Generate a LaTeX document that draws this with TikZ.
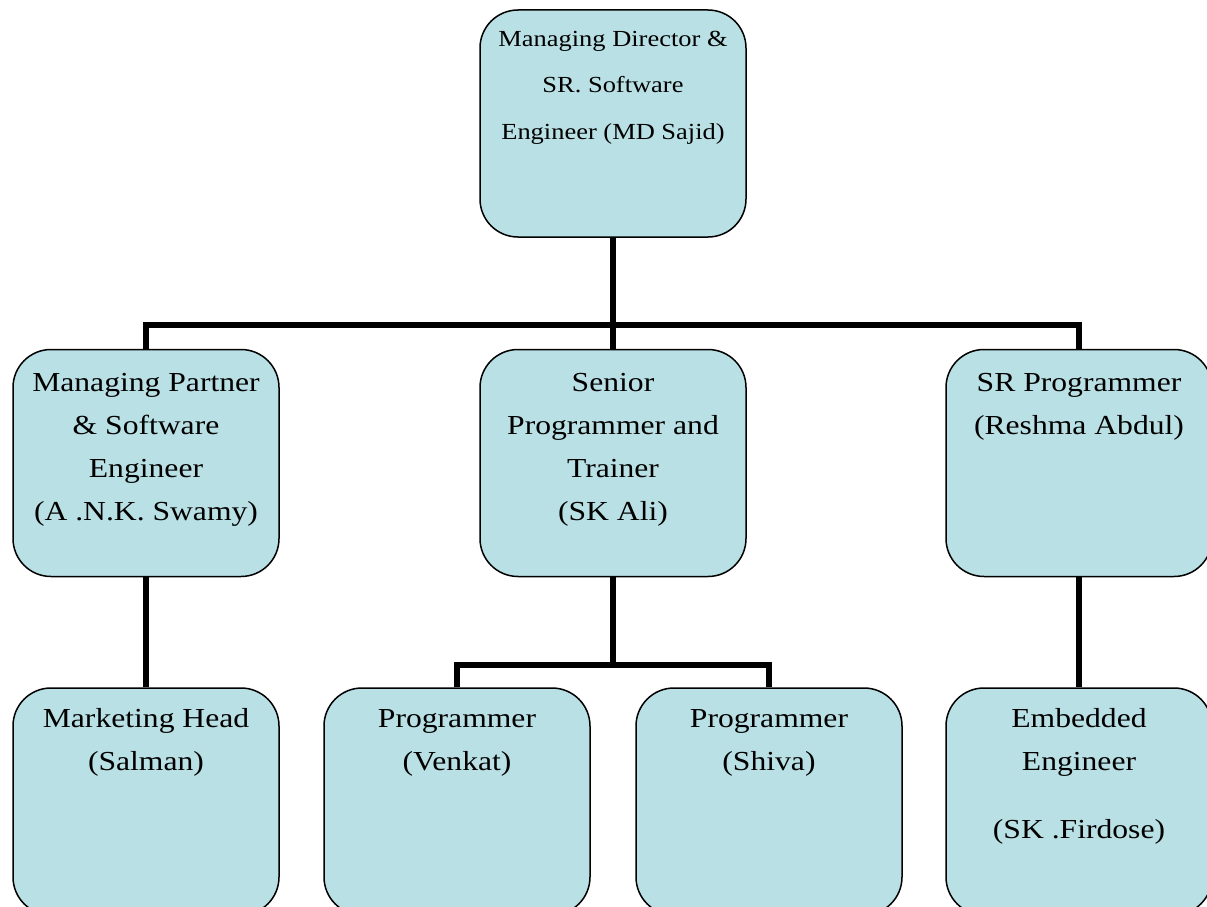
\documentclass[tikz,border=0pt]{standalone}
\usepackage{fontspec}
\setmainfont{Liberation Serif}[FakeStretch=1.15]
\usetikzlibrary{calc}
\definecolor{boxblue}{RGB}{185,224,228}

\begin{document}
\begin{tikzpicture}[x=1pt,y=-1pt,
  orgbox/.style={draw=black,line width=1.5pt,fill=boxblue,rounded corners=38pt,minimum width=266pt,minimum height=227pt,inner sep=0pt},
  orgtext/.style={anchor=north,align=center,inner sep=0pt,font=\fontsize{27.5}{43}\selectfont},
  toptext/.style={orgtext,font=\fontsize{23}{46.5}\selectfont},
  link/.style={line width=6pt}]
\clip (0,0) rectangle (1207,907);

%ROW NR. 0 (from top)

%BOX IN COLUMN NR. 0 (from left)
\node [orgbox] (md) at (613,123.5) {};
\node [toptext] (mdtext) at ($(md.north)+(0,4.5)$) {\strut Managing Director \&\\SR. Software\\Engineer (MD Sajid)};




%ROW NR. 1 (from top)

%BOX IN COLUMN NR. 0 (from left)
\node [orgbox] (swamy) at (146,463) {};
\node [orgtext] (swamytext) at ($(swamy.north)+(0,12)$) {\strut Managing Partner\\\& Software\\Engineer\\(A .N.K. Swamy)};

%BOX IN COLUMN NR. 1 (from left)
\node [orgbox] (ali) at (613,463) {};
\node [orgtext] (alitext) at ($(ali.north)+(0,12)$) {\strut Senior\\Programmer and\\Trainer\\(SK Ali)};

%BOX IN COLUMN NR. 2 (from left)
\node [orgbox] (reshma) at (1079,463) {};
\node [orgtext] (reshmatext) at ($(reshma.north)+(0,12)$) {\strut SR Programmer\\(Reshma Abdul)};




%ROW NR. 2 (from top)

%BOX IN COLUMN NR. 0 (from left)
\node [orgbox] (salman) at (146,801.5) {};
\node [orgtext] (salmantext) at ($(salman.north)+(0,10)$) {\strut Marketing Head\\(Salman)};

%BOX IN COLUMN NR. 1 (from left)
\node [orgbox] (venkat) at (457,801.5) {};
\node [orgtext] (venkattext) at ($(venkat.north)+(0,10)$) {\strut Programmer\\(Venkat)};

%BOX IN COLUMN NR. 2 (from left)
\node [orgbox] (shiva) at (769,801.5) {};
\node [orgtext] (shivatext) at ($(shiva.north)+(0,10)$) {\strut Programmer\\(Shiva)};

%BOX IN COLUMN NR. 3 (from left)
\node [orgbox] (firdose) at (1079,801.5) {};
\node [orgtext] (firdosetext) at ($(firdose.north)+(0,10)$) {\strut Embedded\\Engineer\\[25pt](SK .Firdose)};




%LINKS
\coordinate (bar) at (613,325);
\coordinate (fork) at (613,665);
\draw [link] (md.south) -- (ali.north);
\draw [link] (swamy.north) -- (swamy.north |- bar) -- (reshma.north |- bar) -- (reshma.north);
\draw [link] (swamy.south) -- (salman.north);
\draw [link] (ali.south) -- (ali.south |- fork);
\draw [link] (venkat.north) -- (venkat.north |- fork) -- (shiva.north |- fork) -- (shiva.north);
\draw [link] (reshma.south) -- (firdose.north);

\end{tikzpicture}
\end{document}
